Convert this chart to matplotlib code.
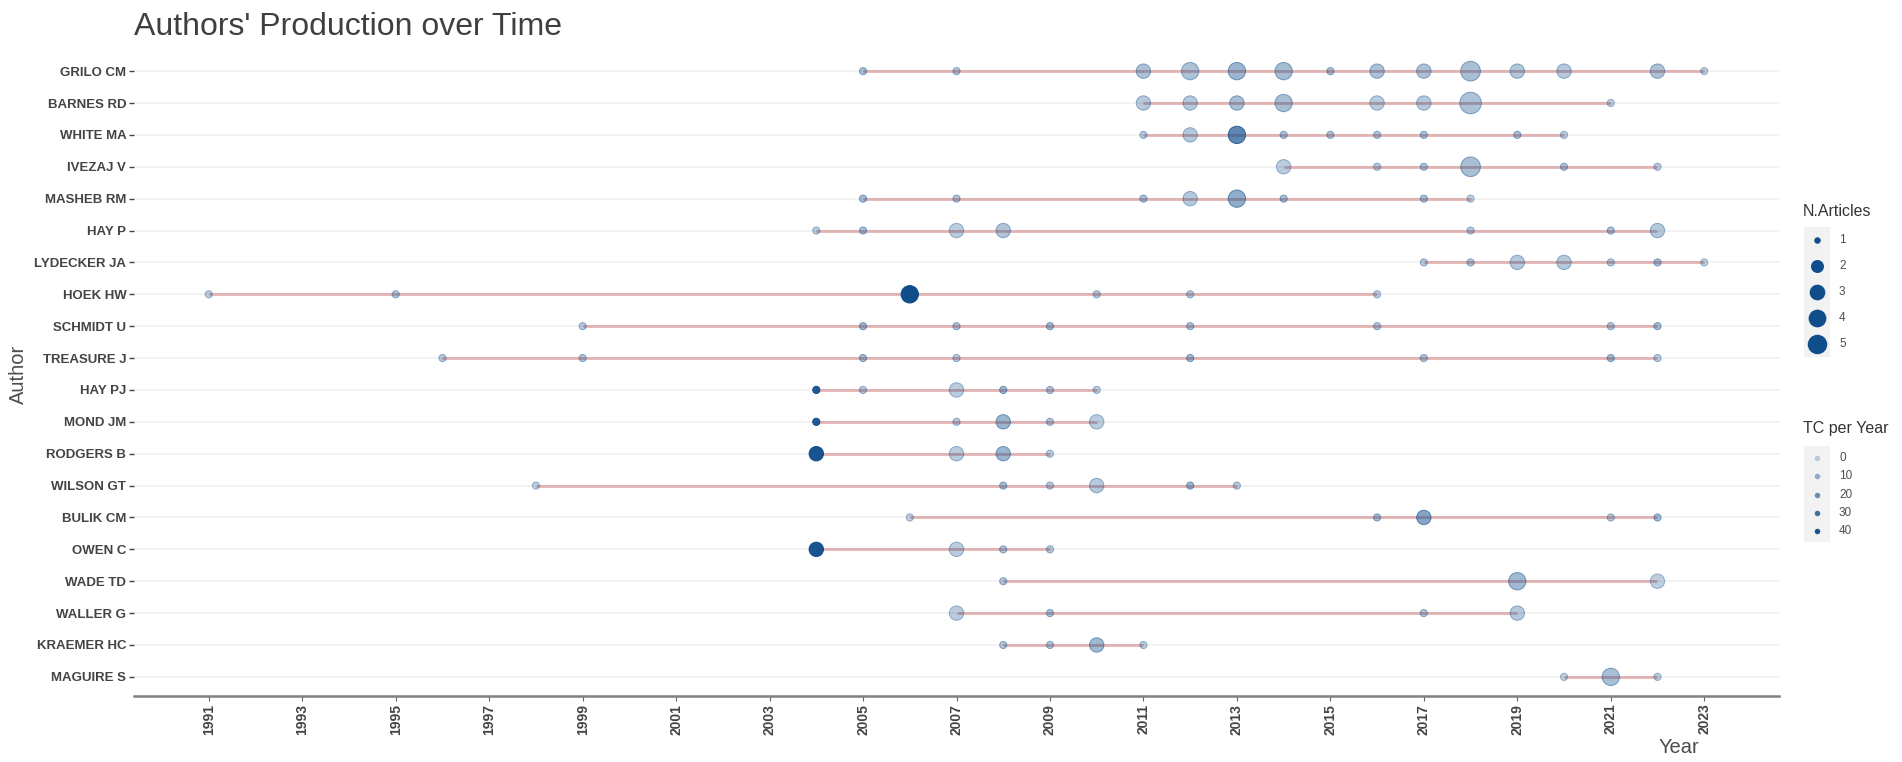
import matplotlib
matplotlib.use("Agg")
import matplotlib.pyplot as plt
import numpy as np
from matplotlib.colors import to_rgba
from matplotlib.patches import Rectangle

plt.rcParams['font.family'] = ['Liberation Sans', 'DejaVu Sans']

# authors, top to bottom
authors = ["GRILO CM", "BARNES RD", "WHITE MA", "IVEZAJ V", "MASHEB RM",
           "HAY P", "LYDECKER JA", "HOEK HW", "SCHMIDT U", "TREASURE J",
           "HAY PJ", "MOND JM", "RODGERS B", "WILSON GT", "BULIK CM",
           "OWEN C", "WADE TD", "WALLER G", "KRAEMER HC", "MAGUIRE S"]

# publication years per author
years = [
    [2005, 2007, 2011, 2012, 2013, 2014, 2015, 2016, 2017, 2018, 2019, 2020, 2022, 2023],
    [2011, 2012, 2013, 2014, 2016, 2017, 2018, 2021],
    [2011, 2012, 2013, 2014, 2015, 2016, 2017, 2019, 2020],
    [2014, 2016, 2017, 2018, 2020, 2022],
    [2005, 2007, 2011, 2012, 2013, 2014, 2017, 2018],
    [2004, 2005, 2007, 2008, 2018, 2021, 2022],
    [2017, 2018, 2019, 2020, 2021, 2022, 2023],
    [1991, 1995, 2006, 2010, 2012, 2016],
    [1999, 2005, 2007, 2009, 2012, 2016, 2021, 2022],
    [1996, 1999, 2005, 2007, 2012, 2017, 2021, 2022],
    [2004, 2005, 2007, 2008, 2009, 2010],
    [2004, 2007, 2008, 2009, 2010],
    [2004, 2007, 2008, 2009],
    [1998, 2008, 2009, 2010, 2012, 2013],
    [2006, 2016, 2017, 2021, 2022],
    [2004, 2007, 2008, 2009],
    [2008, 2019, 2022],
    [2007, 2009, 2017, 2019],
    [2008, 2009, 2010, 2011],
    [2020, 2021, 2022],
]

# number of articles per author-year
n_articles = [
    [1, 1, 2, 3, 3, 3, 1, 2, 2, 4, 2, 2, 2, 1],
    [2, 2, 2, 3, 2, 2, 5, 1],
    [1, 2, 3, 1, 1, 1, 1, 1, 1],
    [2, 1, 1, 4, 1, 1],
    [1, 1, 1, 2, 3, 1, 1, 1],
    [1, 1, 2, 2, 1, 1, 2],
    [1, 1, 2, 2, 1, 1, 1],
    [1, 1, 3, 1, 1, 1],
    [1, 1, 1, 1, 1, 1, 1, 1],
    [1, 1, 1, 1, 1, 1, 1, 1],
    [1, 1, 2, 1, 1, 1],
    [1, 1, 2, 1, 2],
    [2, 2, 2, 1],
    [1, 1, 1, 2, 1, 1],
    [1, 1, 2, 1, 1],
    [2, 2, 1, 1],
    [1, 3, 2],
    [2, 1, 1, 2],
    [1, 1, 2, 1],
    [1, 3, 1],
]

# total citations per year
tc_per_year = [
    [6, 4, 5, 5, 9, 7, 6, 5, 5, 6, 4, 3, 5, 1],
    [3, 3, 6, 6, 2, 3, 5, 1],
    [3, 3, 24, 5, 5, 4, 5, 5, 2],
    [2, 3, 4, 6, 5, 2],
    [7, 4, 5, 3, 12, 6, 5, 1],
    [2, 6, 2, 4, 3, 5, 3],
    [3, 4, 3, 3, 3, 6, 1],
    [2, 4, 42, 3, 3, 2],
    [3, 8, 4, 7, 5, 4, 4, 7],
    [3, 4, 7, 3, 8, 4, 7, 2],
    [38, 3, 2, 8, 4, 2],
    [38, 3, 9, 4, 2],
    [40, 2, 9, 2],
    [1, 6, 3, 3, 8, 2],
    [1, 6, 14, 3, 7],
    [40, 2, 4, 3],
    [4, 8, 1],
    [2, 5, 4, 3],
    [4, 4, 8, 2],
    [1, 6, 2],
]

size_breaks = [1, 2, 3, 4, 5]
tc_breaks = [0, 10, 20, 30, 40]
year_ticks = list(range(1991, 2024, 2))

BLUE = "#104E8B"   # dodgerblue4
W, H, DPI = 1902, 762, 100

n_max = max(max(r) for r in n_articles)
tc_max = max(max(r) for r in tc_per_year)


def dot_size(n, base=7.2):
    # area-style size scale, diameter in pixels -> points^2
    d = base * (1 + 2 * np.sqrt((n - 1) / (n_max - 1)))
    return (d * 72 / DPI) ** 2


def tc_alpha(tc):
    return 0.25 + 0.75 * tc / tc_max


fig = plt.figure(figsize=(W / DPI, H / DPI), dpi=DPI)
ax = fig.add_axes([134 / W, 1 - 696 / H, (1779 - 134) / W, (696 - 52) / H])

for i, name in enumerate(authors):
    yrs = years[i]
    ax.axhline(i, color="#F0F0F0", lw=1.1, zorder=0)
    ax.plot([min(yrs), max(yrs)], [i, i], color="firebrick", alpha=0.3,
            lw=2.2, solid_capstyle="butt", zorder=1)
    cols = [to_rgba(BLUE, tc_alpha(t)) for t in tc_per_year[i]]
    edges = [to_rgba(BLUE, min(1, tc_alpha(t) + 0.12)) for t in tc_per_year[i]]
    ax.scatter(yrs, [i] * len(yrs), s=[dot_size(n) for n in n_articles[i]],
               c=cols, edgecolors=edges, linewidths=0.7, zorder=2)

ax.set_xlim(1989.4, 2024.6)
ax.set_ylim(len(authors) - 0.4, -0.6)
ax.set_yticks(range(len(authors)))
ax.set_yticklabels(authors, fontsize=9.5, fontweight="bold", color="#444444")
ax.set_xticks(year_ticks)
ax.set_xticklabels([str(y) for y in year_ticks], rotation=90, fontsize=10,
                   fontweight="bold", color="#444444")
for s in ["top", "right", "left"]:
    ax.spines[s].set_visible(False)
ax.spines["bottom"].set_color("#808080")
ax.spines["bottom"].set_linewidth(1.8)
ax.tick_params(axis="y", length=3.5, width=1, color="#444444", pad=2)
ax.tick_params(axis="x", length=3.5, width=0.8, color="#666666", pad=2)

fig.text(134 / W, 1 - 35 / H, "Authors' Production over Time", fontsize=23,
         color="#3F3F3F", va="baseline", ha="left")
fig.text(18 / W, 1 - 374 / H, "Author", rotation=90, fontsize=14.5,
         color="#4D4D4D", va="center", ha="center")
fig.text(1699 / W, 9 / H, "Year", fontsize=14.5, color="#4D4D4D",
         va="baseline", ha="right")

# legends drawn in pixel coordinates
lax = fig.add_axes([0, 0, 1, 1])
lax.set_xlim(0, W)
lax.set_ylim(H, 0)
lax.axis("off")

lax.text(1803, 211, "N.Articles", fontsize=11.5, color="#333333", va="center")
lax.add_patch(Rectangle((1804, 227), 26, 130, color="#F2F2F2", lw=0))
for k, n in enumerate(size_breaks):
    yy = 240 + k * 26
    lax.scatter([1817], [yy], s=dot_size(n, 6.5), color=BLUE, lw=0)
    lax.text(1839, yy, str(n), fontsize=8.5, color="#4D4D4D", va="center")

lax.text(1803, 428, "TC per Year", fontsize=11.5, color="#333333", va="center")
lax.add_patch(Rectangle((1804, 446), 26, 96, color="#F2F2F2", lw=0))
for k, t in enumerate(tc_breaks):
    yy = 458 + k * 18.3
    lax.scatter([1817], [yy], s=(5.5 * 72 / DPI) ** 2,
                color=to_rgba(BLUE, tc_alpha(t)), lw=0)
    lax.text(1839, yy, str(t), fontsize=8.5, color="#4D4D4D", va="center")

fig.savefig("out.png", dpi=DPI)
